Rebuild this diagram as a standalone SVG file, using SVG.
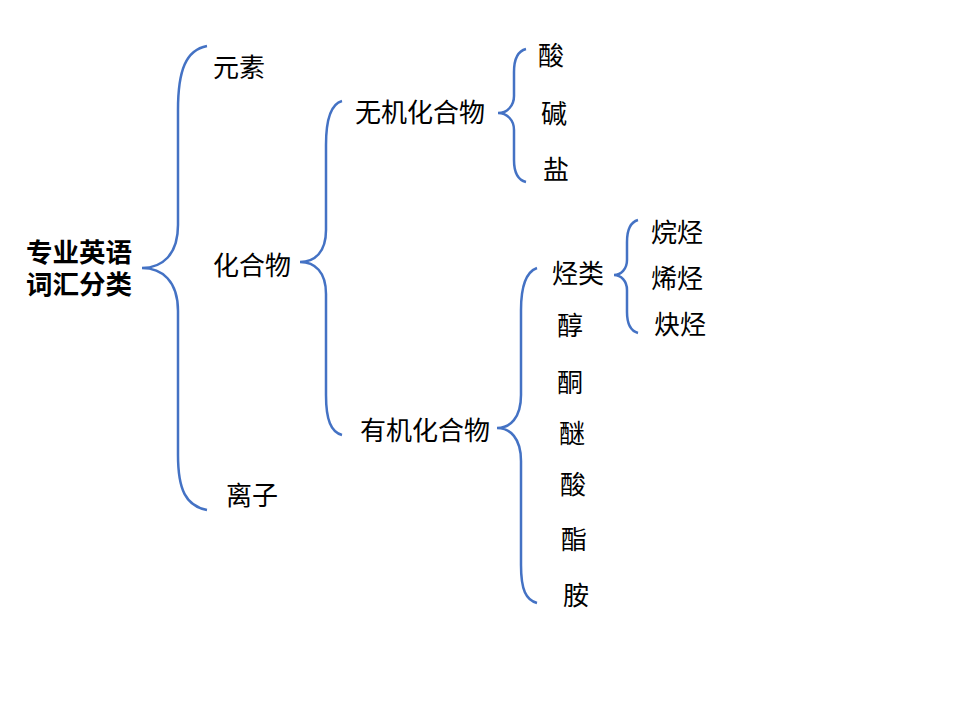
<svg xmlns="http://www.w3.org/2000/svg" width="960" height="720" viewBox="0 0 960 720">
<style>
text{font-family:"Noto Sans CJK SC","Microsoft YaHei",sans-serif;font-size:26px;fill:#000}
.b{font-weight:bold;font-size:26.5px}
.br{fill:none;stroke:#4472C4;stroke-width:2.5}
</style>
<rect width="960" height="720" fill="#fff"/>
<g id="connectors">
<path class="br" d="M207 46 C186 50 178 70 178 110 L178 225 C178 255 162 268 142 268 C162 268 178 281 178 311 L178 455 C178 490 186 506 207 510"/>
<path class="br" d="M342 101 C331 104 326 118 326 145 L326 230 C326 252 315 262 300 262 C315 262 326 272 326 294 L326 395 C326 420 331 432 342 435"/>
<path class="br" d="M526 49 C518 51 514 58 514 72 L514 96 C514 106 507 113 498 113 C507 113 514 120 514 130 L514 160 C514 173 518 180 526 182"/>
<path class="br" d="M537 268 C526 272 521 285 521 310 L521 395 C521 418 510 428 497 428 C510 428 521 438 521 461 L521 565 C521 590 526 600 537 603"/>
<path class="br" d="M638 220 C631 222 627 230 627 242 L627 260 C627 269 621 275 614 275 C621 275 627 281 627 290 L627 312 C627 325 631 331 638 333"/>
</g>
<g id="root"><text class="b"><tspan x="26" y="262">专业英语</tspan><tspan x="26" y="294">词汇分类</tspan></text></g>
<g id="n-yuansu"><text x="213" y="77">元素</text></g>
<g id="n-huahewu"><text x="213" y="275">化合物</text></g>
<g id="n-lizi"><text x="226" y="505">离子</text></g>
<g id="n-wuji"><text x="355" y="122">无机化合物</text></g>
<g id="n-youji"><text x="360" y="440">有机化合物</text></g>
<g id="n-suan1"><text x="538" y="65">酸</text></g>
<g id="n-jian"><text x="541" y="123">碱</text></g>
<g id="n-yan"><text x="543" y="179">盐</text></g>
<g id="n-tinglei"><text x="552" y="283">烃类</text></g>
<g id="n-chun"><text x="557" y="335">醇</text></g>
<g id="n-tong"><text x="557" y="392">酮</text></g>
<g id="n-mi"><text x="559" y="443">醚</text></g>
<g id="n-suan2"><text x="560" y="494">酸</text></g>
<g id="n-zhi"><text x="561" y="549">酯</text></g>
<g id="n-an"><text x="563" y="605">胺</text></g>
<g id="n-wanting"><text x="651" y="242">烷烃</text></g>
<g id="n-xiting"><text x="651" y="288">烯烃</text></g>
<g id="n-queting"><text x="654" y="334">炔烃</text></g>
</svg>
